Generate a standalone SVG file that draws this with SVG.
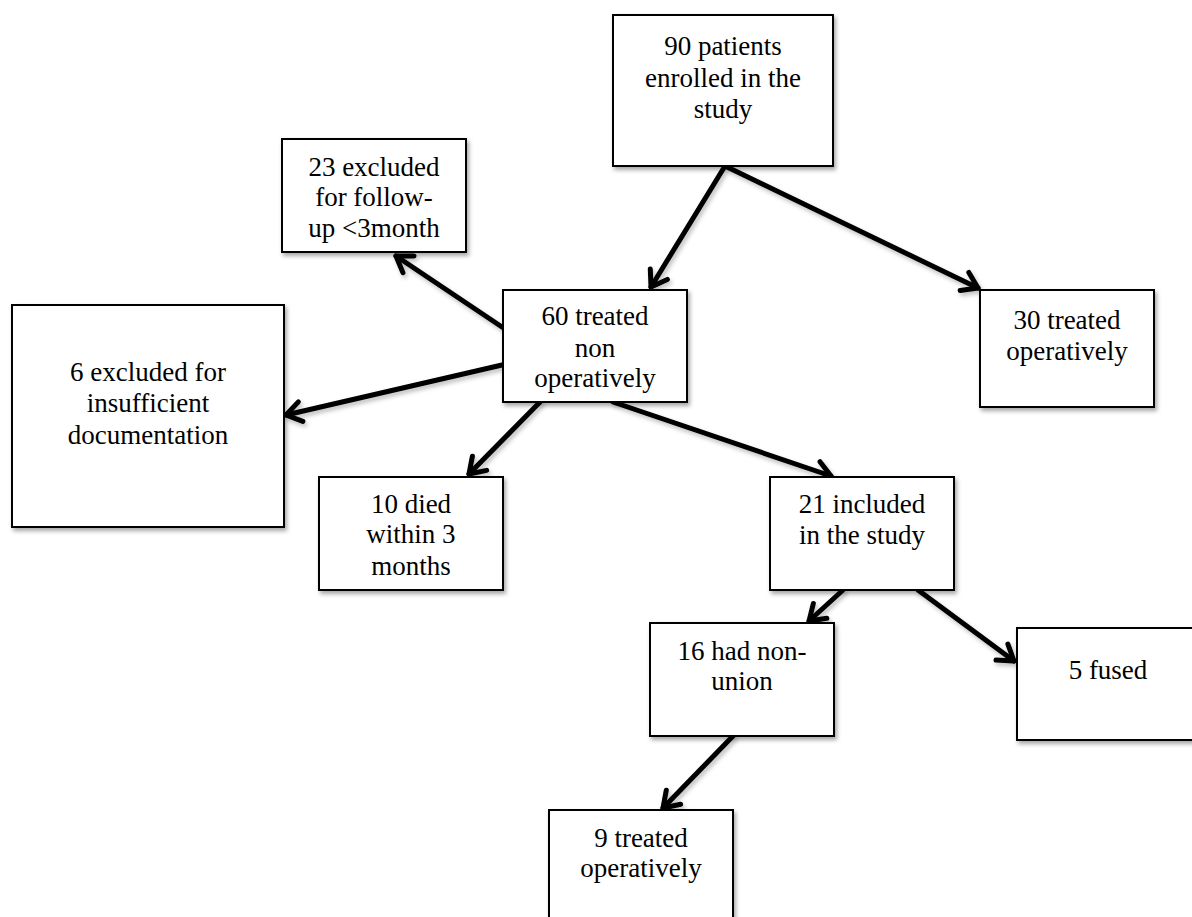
<svg xmlns="http://www.w3.org/2000/svg" width="1192" height="917" viewBox="0 0 1192 917">
<style>
.box{fill:#fff;stroke:#000;stroke-width:2;filter:url(#sh)}
.t{font-family:"Liberation Serif","Times New Roman",serif;font-size:27px;fill:#000;text-anchor:middle}
.c{stroke:#000;stroke-width:5;fill:none;stroke-linecap:round;marker-end:url(#ah)}
</style>
<defs>
<filter id="sh" x="-10%" y="-10%" width="130%" height="130%">
<feDropShadow dx="2" dy="3" stdDeviation="2" flood-color="#000" flood-opacity="0.35"/>
</filter>
<filter id="ls" x="-20%" y="-20%" width="140%" height="140%">
<feDropShadow dx="2" dy="3" stdDeviation="2" flood-color="#000" flood-opacity="0.25"/>
</filter>
<marker id="ah" markerUnits="userSpaceOnUse" viewBox="-18 -14 20 28" markerWidth="20" markerHeight="28" refX="0" refY="0" orient="auto" overflow="visible">
<path d="M-15,-10 L0,0 L-15,10" fill="none" stroke="#000" stroke-width="5" stroke-linecap="round" stroke-linejoin="round"/>
</marker>
</defs>
<rect width="1192" height="917" fill="#fff"/>
<g id="connectors" filter="url(#ls)">
<line class="c" x1="725" y1="166" x2="651" y2="287"/>
<line class="c" x1="725" y1="166" x2="978" y2="288"/>
<line class="c" x1="502" y1="327" x2="396" y2="256"/>
<line class="c" x1="502" y1="365" x2="286" y2="415"/>
<line class="c" x1="540" y1="402" x2="469" y2="474"/>
<line class="c" x1="613" y1="402" x2="831" y2="476"/>
<line class="c" x1="843" y1="590" x2="809" y2="621"/>
<line class="c" x1="918" y1="590" x2="1014" y2="661"/>
<line class="c" x1="733" y1="736" x2="663" y2="808"/>
</g>
<g id="n90"><rect class="box" x="613" y="15" width="220" height="151"/>
<text class="t" x="723" y="55">90 patients</text><text class="t" x="723" y="87">enrolled in the</text><text class="t" x="723" y="118">study</text></g>
<g id="n23"><rect class="box" x="282" y="139" width="184" height="113"/>
<text class="t" x="374" y="176">23 excluded</text><text class="t" x="374" y="206">for follow-</text><text class="t" x="374" y="237">up &lt;3month</text></g>
<g id="n6"><rect class="box" x="12" y="305" width="272" height="222"/>
<text class="t" x="148" y="381">6 excluded for</text><text class="t" x="148" y="412">insufficient</text><text class="t" x="148" y="444">documentation</text></g>
<g id="n60"><rect class="box" x="503" y="290" width="184" height="112"/>
<text class="t" x="595" y="325">60 treated</text><text class="t" x="595" y="357">non</text><text class="t" x="595" y="387">operatively</text></g>
<g id="n30"><rect class="box" x="980" y="290" width="174" height="117"/>
<text class="t" x="1067" y="329">30 treated</text><text class="t" x="1067" y="360">operatively</text></g>
<g id="n10"><rect class="box" x="319" y="477" width="184" height="113"/>
<text class="t" x="411" y="513">10 died</text><text class="t" x="411" y="543">within 3</text><text class="t" x="411" y="575">months</text></g>
<g id="n21"><rect class="box" x="770" y="477" width="184" height="113"/>
<text class="t" x="862" y="513">21 included</text><text class="t" x="862" y="544">in the study</text></g>
<g id="n16"><rect class="box" x="650" y="623" width="184" height="113"/>
<text class="t" x="742" y="660">16 had non-</text><text class="t" x="742" y="690">union</text></g>
<g id="n5"><rect class="box" x="1017" y="628" width="190" height="112"/>
<text class="t" x="1108" y="679">5 fused</text></g>
<g id="n9"><rect class="box" x="549" y="810" width="184" height="125"/>
<text class="t" x="641" y="847">9 treated</text><text class="t" x="641" y="877">operatively</text></g>
</svg>
